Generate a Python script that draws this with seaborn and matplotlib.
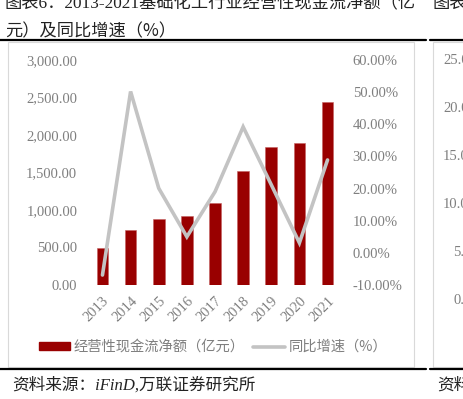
import numpy as np
import pandas as pd
import seaborn as sns
import matplotlib.pyplot as plt
from matplotlib.patches import Rectangle, Patch
from matplotlib.lines import Line2D

# 数据
years = ['2013', '2014', '2015', '2016', '2017', '2018', '2019', '2020', '2021']
cash_flow = [490, 730, 880, 925, 1095, 1520, 1840, 1895, 2440]   # 亿元
growth = [-6.9, 50.2, 20.1, 5.0, 19.0, 39.2, 21.2, 3.1, 28.9]     # %

left_ticks = [0, 500, 1000, 1500, 2000, 2500, 3000]
right_ticks = [-10, 0, 10, 20, 30, 40, 50, 60]
side_labels = ['25.00', '20.00', '15.00', '10.00', '5.00', '0.00']

df = pd.DataFrame({'year': years, 'cash': cash_flow, 'growth': growth})

sns.set_style('white')
plt.rcParams['font.family'] = ['Liberation Serif', 'Noto Sans CJK SC', 'DejaVu Sans']
cjk = ['Noto Sans CJK SC', 'DejaVu Sans']
num_font = ['Liberation Serif', 'Noto Sans CJK SC']
bar_color = '#990000'
line_color = '#c3c3c3'
tick_color = '#7f7f7f'
tick_size = 10.5

W, H = 463, 399
fig = plt.figure(figsize=(W / 100, H / 100), dpi=100)

# 页面元素：标题、黑线、图框
fig.text(5 / W, 1 - 3 / H, '图表6：2013-2021基础化工行业经营性现金流净额（亿',
         fontsize=12.4, family=num_font, va='center', ha='left', color='#222222')
fig.text(433 / W, 1 - 3 / H, '图表', fontsize=12.4, family=cjk, va='center', ha='left', color='#222222')
fig.text(5 / W, 1 - 31 / H, '元）及同比增速（%）', fontsize=12.4, family=cjk,
         va='center', ha='left', color='#222222')

for y in (40, 369):
    fig.add_artist(Line2D([0, 426 / W], [1 - y / H] * 2, color='black', lw=1.6))
    fig.add_artist(Line2D([430 / W, 1], [1 - y / H] * 2, color='black', lw=1.6))

fig.add_artist(Rectangle((8 / W, 1 - 367 / H), 406 / W, 325 / H, fill=False,
                         edgecolor='#d9d9d9', lw=0.8))
fig.add_artist(Rectangle((433 / W, 1 - 367 / H), 100 / W, 325 / H, fill=False,
                         edgecolor='#d9d9d9', lw=0.8))

# 右侧被截断的图表刻度
side_y = [61, 109, 157, 205, 253, 300]
for lab, y in zip(side_labels, side_y):
    x0 = 443 if len(lab) == 5 else 453
    fig.text(x0 / W, 1 - y / H, lab, fontsize=tick_size, family=num_font, color=tick_color,
             ha='left', va='center')

fig.text(12 / W, 1 - 385 / H, '资料来源：iFinD,万联证券研究所', fontsize=12,
         family=num_font, style='italic', va='center', color='#222222')
fig.text(437 / W, 1 - 385 / H, '资料', fontsize=12, family=cjk, style='italic',
         va='center', color='#222222')

# 主图
ax = fig.add_axes([88.4 / W, 1 - 285 / H, 253.2 / W, 225 / H])
sns.barplot(data=df, x='year', y='cash', color=bar_color, width=0.41, ax=ax,
            saturation=1, edgecolor='#c46060', linewidth=0.4)
ax.set_ylim(0, 3000)
ax.set_yticks(left_ticks)
ax.set_yticklabels([f'{v:,.2f}' for v in left_ticks])
ax.set_xlabel('')
ax.set_ylabel('')

ax2 = ax.twinx()
sns.lineplot(x=np.arange(len(years)), y=growth, color=line_color, lw=2.6, ax=ax2,
             solid_joinstyle='miter')
ax2.set_ylim(-10, 60)
ax2.set_yticks(right_ticks)
ax2.set_yticklabels([f'{v:.2f}%' for v in right_ticks])
ax2.set_ylabel('')
ax.set_xlim(-0.5, len(years) - 0.5)

for a in (ax, ax2):
    for s in a.spines.values():
        s.set_visible(False)
    a.tick_params(length=0, colors=tick_color, labelsize=tick_size, pad=8)

plt.setp(ax.get_xticklabels(), rotation=45, ha='right', rotation_mode='anchor',
         fontsize=tick_size, color=tick_color)
ax.tick_params(axis='x', pad=7)

# 图例
handles = [Patch(facecolor=bar_color, edgecolor=bar_color),
           Line2D([], [], color=line_color, lw=2.6)]
fig.legend(handles, ['经营性现金流净额（亿元）', '同比增速（%）'],
           loc='center', bbox_to_anchor=(213 / W, 1 - 347 / H), ncol=2, frameon=False,
           prop={'family': cjk, 'size': 10.3}, labelcolor=tick_color,
           handlelength=2.2, handletextpad=0.25, columnspacing=0.6, handleheight=0.45)

fig.savefig('out.png', dpi=100)
